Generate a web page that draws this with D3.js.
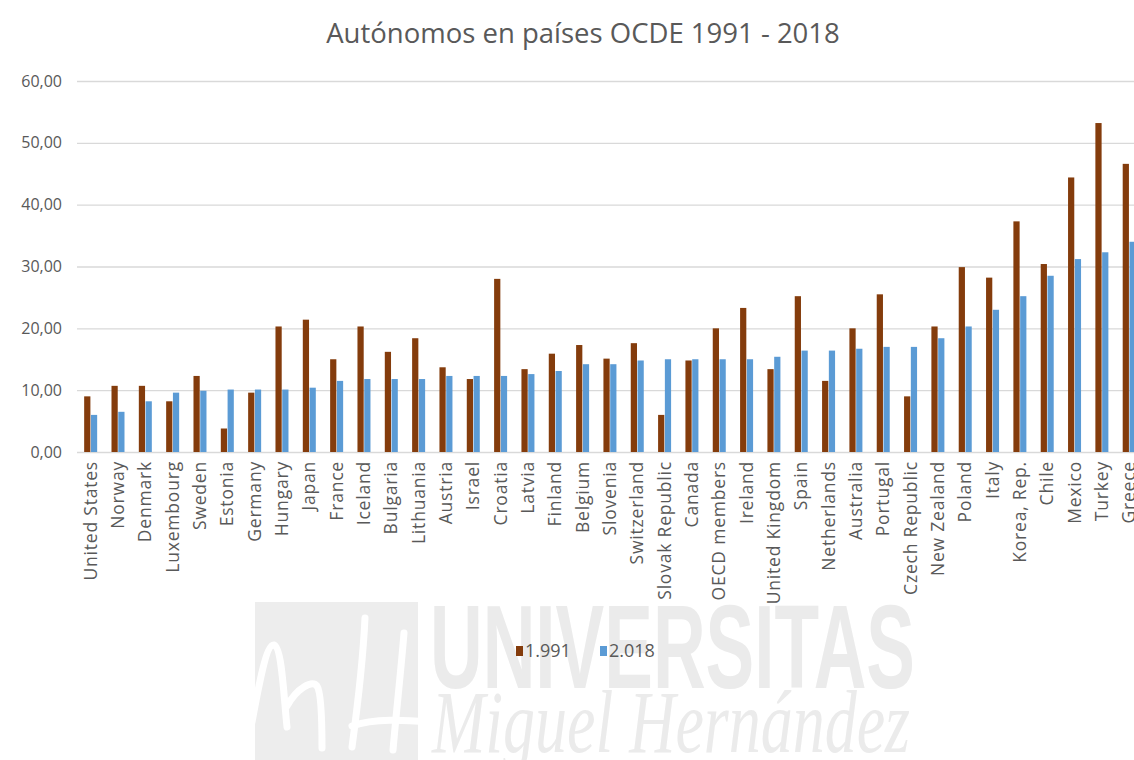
<!DOCTYPE html>
<html>
<head>
<meta charset="utf-8">
<script src="https://cdn.jsdelivr.net/npm/d3@7"></script>
<style>
  html, body { margin: 0; padding: 0; background: #fff; }
  svg { display: block; font-family: "Open Sans", sans-serif; }
</style>
</head>
<body>
<div id="chart"></div>
<script>
// data
const countries = ["United States", "Norway", "Denmark", "Luxembourg", "Sweden", "Estonia", "Germany",
	"Hungary", "Japan", "France", "Iceland", "Bulgaria", "Lithuania", "Austria", "Israel", "Croatia",
	"Latvia", "Finland", "Belgium", "Slovenia", "Switzerland", "Slovak Republic", "Canada",
	"OECD members", "Ireland", "United Kingdom", "Spain", "Netherlands", "Australia", "Portugal",
	"Czech Republic", "New Zealand", "Poland", "Italy", "Korea, Rep.", "Chile", "Mexico", "Turkey", "Greece"];
const values1991 = [9.0, 10.7, 10.7, 8.2, 12.3, 3.8, 9.6, 20.3, 21.4, 15.0, 20.3, 16.2, 18.4, 13.7, 11.8, 28.0,
	13.4, 15.9, 17.3, 15.1, 17.6, 6.0, 14.8, 20.0, 23.3, 13.4, 25.2, 11.5, 20.0, 25.5,
	9.0, 20.3, 29.9, 28.2, 37.3, 30.4, 44.4, 53.2, 46.6];
const values2018 = [6.0, 6.5, 8.2, 9.6, 9.9, 10.1, 10.1, 10.1, 10.4, 11.5, 11.8, 11.8, 11.8, 12.3, 12.3, 12.3,
	12.6, 13.1, 14.2, 14.2, 14.8, 15.0, 15.0, 15.0, 15.0, 15.4, 16.4, 16.4, 16.7, 17.0,
	17.0, 18.4, 20.3, 23.0, 25.2, 28.5, 31.2, 32.3, 34.0];
const series = ["1.991", "2.018"];
const yTicks = [0, 10, 20, 30, 40, 50, 60];
const colors = ["#843c0c", "#5b9bd5"];

const width = 1134, height = 760;
const plotLeft = 77, plotTop = 81, plotBottom = 452;
const step = 27.33;

const svg = d3.select("#chart").append("svg")
	.attr("width", width)
	.attr("height", height);

// watermark of the source page (behind the chart)
const wm = svg.append("g").attr("class", "watermark");
wm.append("rect")
	.attr("x", 255).attr("y", 602).attr("width", 163).attr("height", 158)
	.attr("fill", "#ededed");
const strokes = [
	"M252,722 C258,690 266,644 274,645 C282,647 284,700 287,727",
	"M287,706 C297,688 312,680 317,686 C322,693 322,730 322,748",
	"M365,618 C363,660 357,710 352,747",
	"M352,726 C375,718 405,720 430,722",
	"M404,633 C401,670 396,715 393,750"
];
wm.selectAll("path")
	.data(strokes)
	.join("path")
	.attr("d", d => d)
	.attr("fill", "none")
	.attr("stroke", "#fff")
	.attr("stroke-width", 7)
	.attr("stroke-linecap", "round");
wm.append("text")
	.attr("x", 430).attr("y", 688)
	.style("font-family", "'Liberation Sans', sans-serif")
	.style("font-weight", "bold")
	.style("font-size", "118px")
	.attr("textLength", 485)
	.attr("lengthAdjust", "spacingAndGlyphs")
	.attr("fill", "#ebebeb")
	.text("UNIVERSITAS");
wm.append("text")
	.attr("x", 432).attr("y", 752)
	.style("font-family", "'Liberation Serif', serif")
	.style("font-style", "italic")
	.style("font-size", "88px")
	.attr("textLength", 478)
	.attr("lengthAdjust", "spacingAndGlyphs")
	.attr("fill", "#ebebeb")
	.text("Miguel Hernández");

const x = d3.scaleBand()
	.domain(countries)
	.range([plotLeft, plotLeft + step * countries.length]);

const xs = d3.scaleBand()
	.domain(series)
	.range([x.bandwidth() / 2 - 6.5, x.bandwidth() / 2 + 6.5])
	.paddingInner(0.08);

const y = d3.scaleLinear()
	.domain([0, 60])
	.range([plotBottom, plotTop]);

// title
svg.append("text")
	.attr("x", 583).attr("y", 43)
	.attr("text-anchor", "middle")
	.style("font-size", "27.5px")
	.attr("fill", "#595959")
	.text("Autónomos en países OCDE 1991 - 2018");

// grid lines + y labels
const yAxis = svg.append("g")
	.attr("transform", `translate(${plotLeft},0)`)
	.call(d3.axisLeft(y)
		.tickValues(yTicks)
		.tickSize(-(width - plotLeft))
		.tickPadding(15)
		.tickFormat(d => d3.format(".2f")(d).replace(".", ",")));
yAxis.select(".domain").remove();
yAxis.selectAll(".tick line").attr("stroke", "#d9d9d9").attr("stroke-width", 1.3);
yAxis.selectAll(".tick text")
	.style("font-size", "16px")
	.style("font-family", "'Open Sans', sans-serif")
	.attr("fill", "#595959");

// bars
const rows = countries.map((c, i) => ({ name: c, vals: [values1991[i], values2018[i]] }));
svg.append("g")
	.selectAll("g")
	.data(rows)
	.join("g")
	.attr("transform", d => `translate(${x(d.name)},0)`)
	.selectAll("rect")
	.data(d => d.vals.map((v, k) => ({ key: series[k], v: v, k: k })))
	.join("rect")
	.attr("x", d => xs(d.key))
	.attr("y", d => y(d.v))
	.attr("width", xs.bandwidth())
	.attr("height", d => y(0) - y(d.v))
	.attr("fill", d => colors[d.k]);

// x labels
const xAxis = svg.append("g")
	.attr("transform", `translate(0,${plotBottom})`)
	.call(d3.axisBottom(x).tickSize(0).tickPadding(0));
xAxis.select(".domain").remove();
xAxis.selectAll(".tick text")
	.attr("transform", "rotate(-90)")
	.attr("text-anchor", "end")
	.attr("x", -9)
	.attr("y", 0)
	.attr("dy", "0.35em")
	.style("font-size", "17.5px")
	.style("letter-spacing", "0.8px")
	.style("font-family", "'Open Sans', sans-serif")
	.attr("fill", "#595959");

// legend
const legend = svg.append("g").attr("transform", "translate(516,651)");
const lx = [0, 84];
series.forEach((s, i) => {
	legend.append("rect")
		.attr("x", lx[i]).attr("y", -5)
		.attr("width", 7).attr("height", 10)
		.attr("fill", colors[i]);
	legend.append("text")
		.attr("x", lx[i] + 9).attr("y", 0)
		.attr("dy", "0.36em")
		.style("font-size", "18px")
		.attr("fill", "#595959")
		.text(s);
});
</script>
</body>
</html>
